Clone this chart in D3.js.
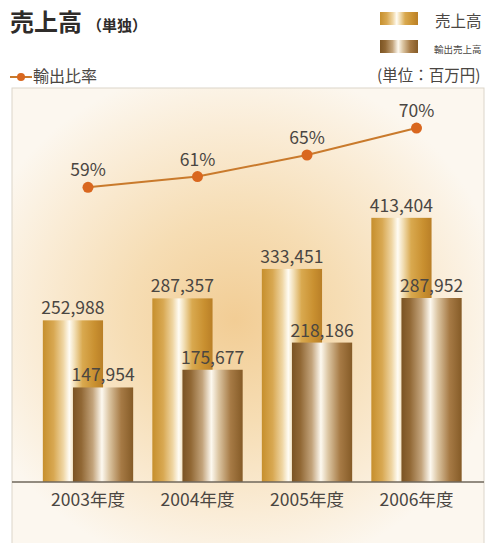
<!DOCTYPE html>
<html lang="ja">
<head>
<meta charset="utf-8">
<script src="https://cdn.jsdelivr.net/npm/d3@7"></script>
<style>
  html, body { margin: 0; padding: 0; background: #ffffff; }
  svg { display: block; }
  text { font-family: "Noto Sans CJK JP", "Noto Sans", sans-serif; }
</style>
</head>
<body>
<svg id="chart" width="487" height="543"></svg>
<script>
// 売上高（単独）: fiscal-year categories and values (百万円)
const years = ["2003", "2004", "2005", "2006"];
const sales = [252988, 287357, 333451, 413404];        // 売上高
const exportSales = [147954, 175677, 218186, 287952];  // 輸出売上高
const exportRatio = [59, 61, 65, 70];                  // 輸出比率 (%)

const seriesNames = ["売上高", "輸出売上高"];
const ratioName = "輸出比率";
const titleMain = "売上高";
const titleSub = "（単独）";
const unitLabel = "(単位：百万円)";

const W = 487, H = 543;
const panel = { x: 12, y: 88, w: 472, h: 460 };
const svg = d3.select("#chart");
const defs = svg.append("defs");

// Metallic bar fills
function metal(id, stops) {
  const g = defs.append("linearGradient").attr("id", id)
    .attr("x1", "0%").attr("x2", "100%").attr("y1", "0%").attr("y2", "0%");
  stops.forEach(([o, c]) => g.append("stop").attr("offset", o).attr("stop-color", c));
}
metal("gold", [
  [0, "#c68f2d"], [0.18, "#d8a852"], [0.34, "#efd6a4"], [0.44, "#fffcf4"],
  [0.53, "#f1ddb2"], [0.66, "#d9a94f"], [0.86, "#c99030"], [1, "#b97f27"]
]);
metal("bronze", [
  [0, "#7b5423"], [0.14, "#916835"], [0.33, "#c3a47c"], [0.48, "#fdf9f0"],
  [0.6, "#dcc6a3"], [0.8, "#a67a45"], [1, "#855b27"]
]);

// Warm glow behind the plot
const glow = defs.append("radialGradient").attr("id", "glow")
  .attr("gradientUnits", "userSpaceOnUse")
  .attr("cx", 235).attr("cy", 320).attr("r", 270)
  .attr("gradientTransform", "translate(235,320) scale(1,0.95) translate(-235,-320)");
[[0, "#f2cd95"], [0.4, "#f6ddb4"], [0.75, "#faecd6"], [1, "#fcf7ef"]]
  .forEach(([o, c]) => glow.append("stop").attr("offset", o).attr("stop-color", c));

svg.append("rect")
  .attr("x", panel.x).attr("y", panel.y)
  .attr("width", panel.w).attr("height", panel.h)
  .attr("fill", "url(#glow)")
  .attr("stroke", "#dcd5ca").attr("stroke-width", 1);

// Scales
const x = d3.scaleBand().domain(years).range([33.25, 471.25]).padding(0);
const barW = x.step() * 0.55;
const y = d3.scaleLinear().domain([0, 500000]).range([482, 482 - 500000 * 0.000639]);
const yr = d3.scaleLinear().domain([55, 75]).range([208.9, 101.1]);
const fmt = d3.format(",");
const cx = d => x(d) + x.bandwidth() / 2;

const rows = years.map((yrName, i) => ({
  year: yrName, sales: sales[i], exp: exportSales[i], ratio: exportRatio[i]
}));

// Bars: 売上高 behind, 輸出売上高 overlapping to the right
const gBars = svg.append("g");
gBars.selectAll("rect.sales").data(rows).join("rect")
  .attr("class", "sales")
  .attr("x", d => cx(d.year) - barW * 0.75)
  .attr("y", d => y(d.sales))
  .attr("width", barW)
  .attr("height", d => y(0) - y(d.sales))
  .attr("fill", "url(#gold)");
gBars.selectAll("rect.exp").data(rows).join("rect")
  .attr("class", "exp")
  .attr("x", d => cx(d.year) - barW * 0.25)
  .attr("y", d => y(d.exp))
  .attr("width", barW)
  .attr("height", d => y(0) - y(d.exp))
  .attr("fill", "url(#bronze)");

// Value labels
const labelStyle = sel => sel
  .attr("text-anchor", "middle")
  .attr("font-size", 17.5)
  .attr("fill", "#4a4642");
svg.append("g").selectAll("text").data(rows).join("text")
  .call(labelStyle)
  .attr("x", d => cx(d.year) - barW * 0.25)
  .attr("y", d => y(d.sales) - 6)
  .text(d => fmt(d.sales));
svg.append("g").selectAll("text").data(rows).join("text")
  .call(labelStyle)
  .attr("x", d => cx(d.year) + barW * 0.25)
  .attr("y", d => y(d.exp) - 6)
  .text(d => fmt(d.exp));

// Baseline across the panel
svg.append("line")
  .attr("x1", panel.x).attr("x2", panel.x + panel.w)
  .attr("y1", y(0)).attr("y2", y(0))
  .attr("stroke", "#6f675b").attr("stroke-width", 1.5);

// Category axis
const axis = svg.append("g")
  .attr("transform", `translate(0,${y(0)})`)
  .call(d3.axisBottom(x).tickSize(0).tickPadding(12).tickFormat(d => d + "年度"));
axis.select(".domain").remove();
axis.selectAll("text")
  .attr("font-family", "'Noto Sans CJK JP', sans-serif")
  .attr("font-size", 17.5)
  .attr("fill", "#4a4642");

// 輸出比率 line
const line = d3.line().x(d => cx(d.year)).y(d => yr(d.ratio));
svg.append("path").datum(rows)
  .attr("d", line)
  .attr("fill", "none")
  .attr("stroke", "#c97a2c")
  .attr("stroke-width", 2);
svg.append("g").selectAll("circle").data(rows).join("circle")
  .attr("cx", d => cx(d.year)).attr("cy", d => yr(d.ratio))
  .attr("r", 5.5).attr("fill", "#d9671f");
svg.append("g").selectAll("text").data(rows).join("text")
  .call(labelStyle)
  .attr("x", d => cx(d.year))
  .attr("y", d => yr(d.ratio) - 11)
  .text(d => d.ratio + "%");

// Title
const title = svg.append("text").attr("x", 10).attr("y", 31).attr("fill", "#2f2c2a");
title.append("tspan").attr("font-size", 24).attr("font-weight", 700).text(titleMain);
title.append("tspan").attr("font-size", 15).attr("font-weight", 700).attr("dx", 5).text(titleSub);

// Legend: bar series
const legend = svg.append("g");
const swatch = [{ fill: "url(#gold)", y: 12 }, { fill: "url(#bronze)", y: 40 }];
seriesNames.forEach((name, i) => {
  legend.append("rect")
    .attr("x", 380).attr("y", swatch[i].y)
    .attr("width", 38).attr("height", 13)
    .attr("fill", swatch[i].fill);
});
legend.append("text").attr("x", 435).attr("y", 27)
  .attr("font-size", 15.5).attr("fill", "#4a4642").text(seriesNames[0]);
legend.append("text").attr("x", 434).attr("y", 53)
  .attr("font-size", 9.5).attr("fill", "#4a4642")
  .text(seriesNames[1]);
legend.append("text").attr("x", 377).attr("y", 81)
  .attr("font-size", 15.5).attr("fill", "#4a4642").text(unitLabel);

// Legend: ratio line
legend.append("line").attr("x1", 10).attr("x2", 32).attr("y1", 77).attr("y2", 77)
  .attr("stroke", "#c97a2c").attr("stroke-width", 2);
legend.append("circle").attr("cx", 21).attr("cy", 77).attr("r", 4).attr("fill", "#d9671f");
legend.append("text").attr("x", 33).attr("y", 82)
  .attr("font-size", 16).attr("fill", "#4a4642").text(ratioName);
</script>
</body>
</html>
